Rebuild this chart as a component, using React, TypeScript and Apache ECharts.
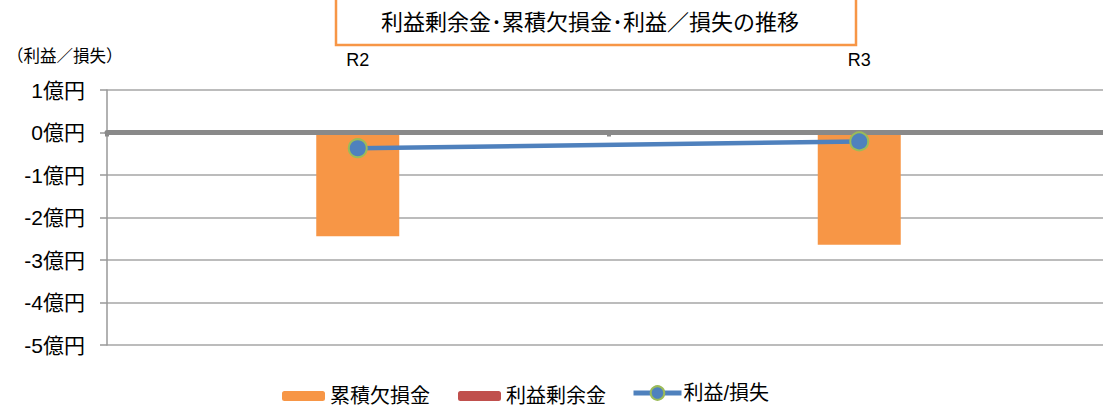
import React, { useEffect, useRef } from "react";
import * as echarts from "echarts";

const categories = ["R2", "R3"];
const accumulatedDeficit = [-2.44, -2.64]; // 累積欠損金 (億円)
const retainedEarnings: (number | null)[] = [null, null]; // 利益剰余金 (億円)
const profitLoss = [-0.37, -0.21]; // 利益/損失 (億円)
const yTicks = { min: -5, max: 1, interval: 1 };

const FONT = "'Liberation Sans', 'Noto Sans CJK JP', sans-serif";

export default function App() {
  const ref = useRef<HTMLDivElement>(null);

  useEffect(() => {
    if (!ref.current) return;
    const chart = echarts.init(ref.current, null, { renderer: "svg" });
    chart.setOption({
      animation: false,
      backgroundColor: "#ffffff",
      textStyle: { fontFamily: FONT },
      // the plot area runs a little past the right edge of the visible frame
      grid: { left: 107, top: 90, width: 1003, bottom: 63, containLabel: false },
      graphic: [
        {
          type: "rect",
          shape: { x: 336, y: -4, width: 520, height: 49 },
          style: { fill: "#ffffff", stroke: "#f79646", lineWidth: 2.5 },
          z: 10,
        },
        {
          type: "text",
          x: 590,
          y: 22,
          style: {
            text: "利益剰余金･累積欠損金･利益／損失の推移",
            fontSize: 22,
            fontFamily: FONT,
            fill: "#000000",
            align: "center",
            verticalAlign: "middle",
          },
          z: 11,
        },
        {
          type: "text",
          x: 7,
          y: 56,
          style: {
            text: "（利益／損失）",
            fontSize: 16.5,
            fontFamily: FONT,
            fill: "#000000",
            align: "left",
            verticalAlign: "middle",
          },
        },
      ],
      legend: [
        {
          left: 277,
          top: 381,
          itemWidth: 43,
          itemHeight: 10,
          itemGap: 28,
          textStyle: { fontSize: 20, color: "#000000", fontFamily: FONT },
          data: ["累積欠損金", "利益剰余金"],
        },
        {
          left: 626,
          top: 378,
          itemWidth: 48,
          itemHeight: 17,
          lineStyle: { width: 5 },
          textStyle: { fontSize: 20, color: "#000000", fontFamily: FONT, padding: [0, 0, 0, -3] },
          data: ["利益/損失"],
        },
      ],
      xAxis: [
        {
          type: "category",
          data: categories,
          position: "bottom",
          z: 3,
          axisLine: { onZero: true, lineStyle: { color: "#898989", width: 5 } },
          axisTick: { show: true, length: 4, lineStyle: { color: "#898989", width: 4 } },
          axisLabel: { show: false },
          splitLine: { show: false },
        },
        {
          type: "category",
          data: categories,
          position: "top",
          axisLine: { show: false },
          axisTick: { show: false },
          axisLabel: { show: true, fontSize: 18, color: "#000000", margin: 21, fontFamily: FONT },
          splitLine: { show: false },
        },
      ],
      yAxis: {
        type: "value",
        min: yTicks.min,
        max: yTicks.max,
        interval: yTicks.interval,
        axisLine: { show: true, lineStyle: { color: "#999999", width: 1.5 } },
        axisTick: { show: true, length: 7, lineStyle: { color: "#999999", width: 1.5 } },
        axisLabel: {
          fontSize: 21,
          color: "#000000",
          margin: 22,
          fontFamily: FONT,
          formatter: (v: number) => `${v}億円`,
        },
        splitLine: { show: true, lineStyle: { color: "#a6a6a6", width: 1.5 } },
      },
      series: [
        {
          name: "累積欠損金",
          type: "bar",
          stack: "total",
          data: accumulatedDeficit,
          barWidth: 83,
          itemStyle: { color: "#f79646" },
          z: 2,
        },
        {
          name: "利益剰余金",
          type: "bar",
          stack: "total",
          data: retainedEarnings,
          barWidth: 83,
          itemStyle: { color: "#c0504d" },
          z: 2,
        },
        {
          name: "利益/損失",
          type: "line",
          data: profitLoss,
          symbol: "circle",
          symbolSize: 18,
          lineStyle: { color: "#4f81bd", width: 4.5 },
          itemStyle: { color: "#4f81bd", borderColor: "#9bbb59", borderWidth: 2 },
          z: 5,
        },
      ],
    });
    return () => chart.dispose();
  }, []);

  return (
    <div style={{ position: "fixed", left: 0, top: 0, width: 1103, height: 408, overflow: "hidden" }}>
      <div ref={ref} style={{ width: 1130, height: 408 }} />
    </div>
  );
}
